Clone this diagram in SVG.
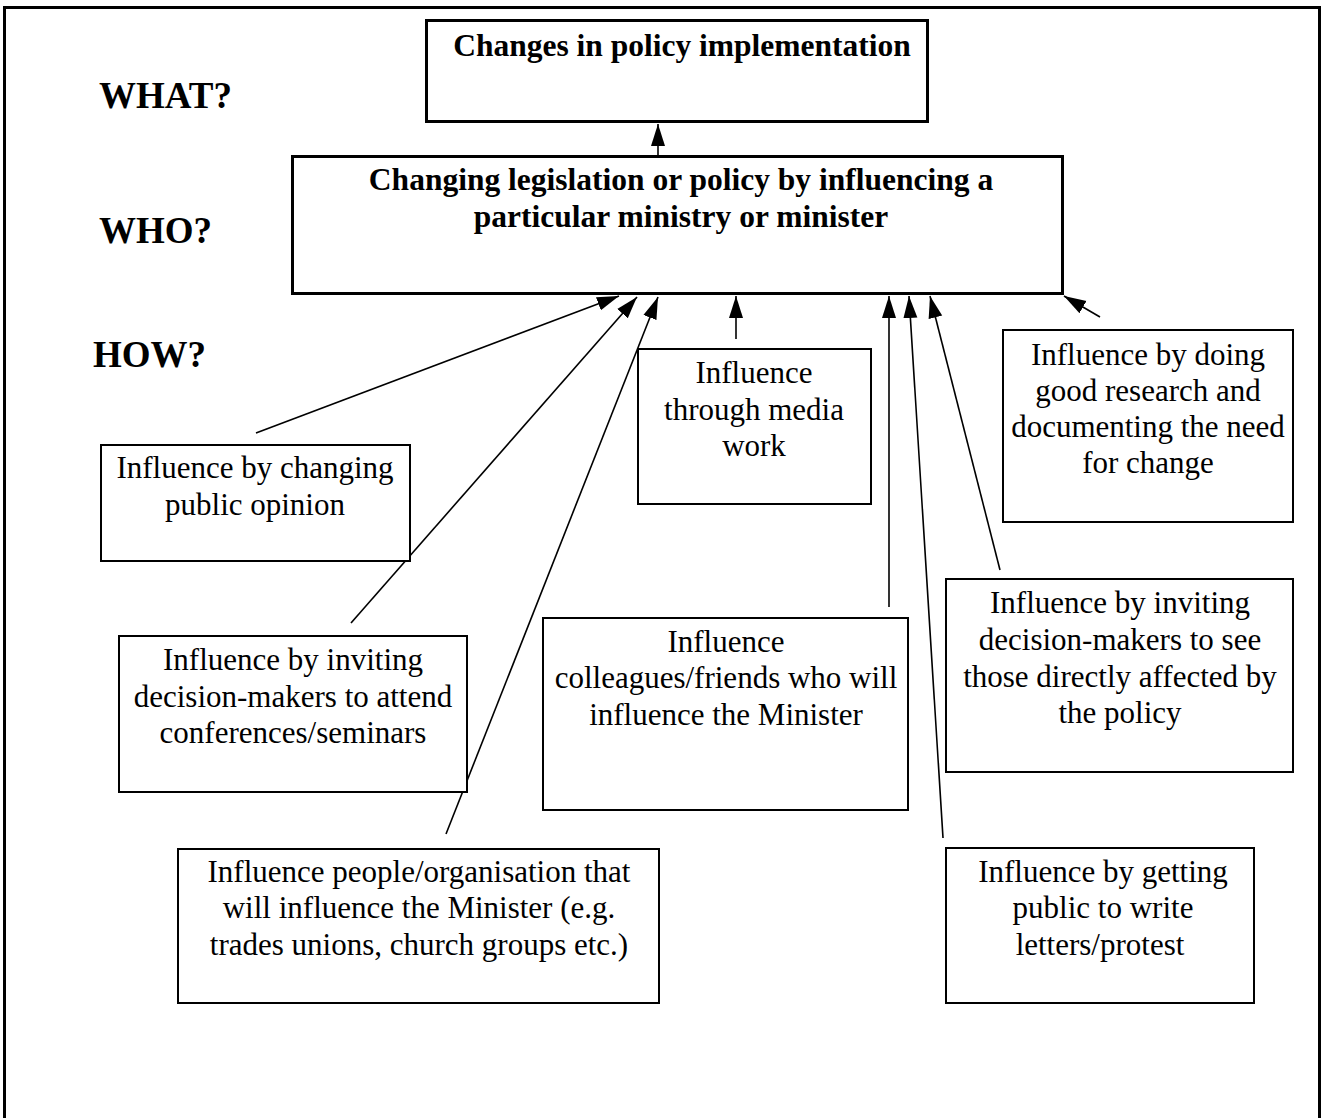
<svg xmlns="http://www.w3.org/2000/svg" width="1324" height="1118" viewBox="0 0 1324 1118">
<style>
.bx{fill:#fff;stroke:#000;stroke-width:2}
.bxb{fill:#fff;stroke:#000;stroke-width:3}
.t{font-family:"Liberation Serif","Times New Roman",serif;font-size:31px;fill:#000;text-anchor:middle}
.tb{font-family:"Liberation Serif","Times New Roman",serif;font-size:31.5px;font-weight:bold;fill:#000;text-anchor:middle}
.lab{font-family:"Liberation Serif","Times New Roman",serif;font-size:37px;font-weight:bold;fill:#000}
.c{stroke:#000;stroke-width:1.6;fill:none;marker-end:url(#ah)}
</style>
<defs>
<marker id="ah" markerUnits="userSpaceOnUse" markerWidth="24" markerHeight="16" refX="22" refY="7" orient="auto" viewBox="0 0 24 14">
<path d="M0,0 L22,7 L0,14 Z" fill="#000"/>
</marker>
</defs>
<rect x="0" y="0" width="1324" height="1118" fill="#fff"/>
<rect x="4.5" y="7.5" width="1315" height="1120" fill="none" stroke="#000" stroke-width="3"/>
<text class="lab" x="99" y="108">WHAT?</text>
<text class="lab" x="99" y="243">WHO?</text>
<text class="lab" x="93" y="367">HOW?</text>
<g id="connectors">
<line class="c" x1="658" y1="166" x2="658" y2="124"/>
<line class="c" x1="256" y1="433" x2="619" y2="296"/>
<line class="c" x1="351" y1="623" x2="637" y2="297"/>
<line class="c" x1="446" y1="834" x2="658" y2="297"/>
<line class="c" x1="736" y1="339" x2="736" y2="296"/>
<line class="c" x1="889" y1="607" x2="889" y2="296"/>
<line class="c" x1="943" y1="838" x2="909" y2="296"/>
<line class="c" x1="1000" y1="570" x2="930" y2="296"/>
<line class="c" x1="1100" y1="317" x2="1064" y2="296"/>
</g>
<g id="n-what">
<rect class="bxb" x="426.5" y="20.5" width="501" height="101"/>
<text class="tb" x="682" y="56">Changes in policy implementation</text>
</g>
<g id="n-who">
<rect class="bxb" x="292.5" y="156.5" width="770" height="137"/>
<text class="tb" x="681" y="190">Changing legislation or policy by influencing a</text>
<text class="tb" x="681" y="227">particular ministry or minister</text>
</g>
<g id="n-public">
<rect class="bx" x="101" y="445" width="309" height="116"/>
<text class="t" x="255" y="478">Influence by changing</text>
<text class="t" x="255" y="515">public opinion</text>
</g>
<g id="n-media">
<rect class="bx" x="638" y="349" width="233" height="155"/>
<text class="t" x="754" y="383">Influence</text>
<text class="t" x="754" y="420">through media</text>
<text class="t" x="754" y="456">work</text>
</g>
<g id="n-research">
<rect class="bx" x="1003" y="330" width="290" height="192"/>
<text class="t" x="1148" y="365">Influence by doing</text>
<text class="t" x="1148" y="401">good research and</text>
<text class="t" x="1148" y="437">documenting the need</text>
<text class="t" x="1148" y="473">for change</text>
</g>
<g id="n-conferences">
<rect class="bx" x="119" y="636" width="348" height="156"/>
<text class="t" x="293" y="670">Influence by inviting</text>
<text class="t" x="293" y="707">decision-makers to attend</text>
<text class="t" x="293" y="743">conferences/seminars</text>
</g>
<g id="n-colleagues">
<rect class="bx" x="543" y="618" width="365" height="192"/>
<text class="t" x="726" y="652">Influence</text>
<text class="t" x="726" y="688">colleagues/friends who will</text>
<text class="t" x="726" y="725">influence the Minister</text>
</g>
<g id="n-affected">
<rect class="bx" x="946" y="579" width="347" height="193"/>
<text class="t" x="1120" y="613">Influence by inviting</text>
<text class="t" x="1120" y="650">decision-makers to see</text>
<text class="t" x="1120" y="687">those directly affected by</text>
<text class="t" x="1120" y="723">the policy</text>
</g>
<g id="n-organisation">
<rect class="bx" x="178" y="849" width="481" height="154"/>
<text class="t" x="419" y="882">Influence people/organisation that</text>
<text class="t" x="419" y="918">will influence the Minister (e.g.</text>
<text class="t" x="419" y="955">trades unions, church groups etc.)</text>
</g>
<g id="n-letters">
<rect class="bx" x="946" y="848" width="308" height="155"/>
<text class="t" x="1103" y="882">Influence by getting</text>
<text class="t" x="1103" y="918">public to write</text>
<text class="t" x="1100" y="955">letters/protest</text>
</g>
</svg>
